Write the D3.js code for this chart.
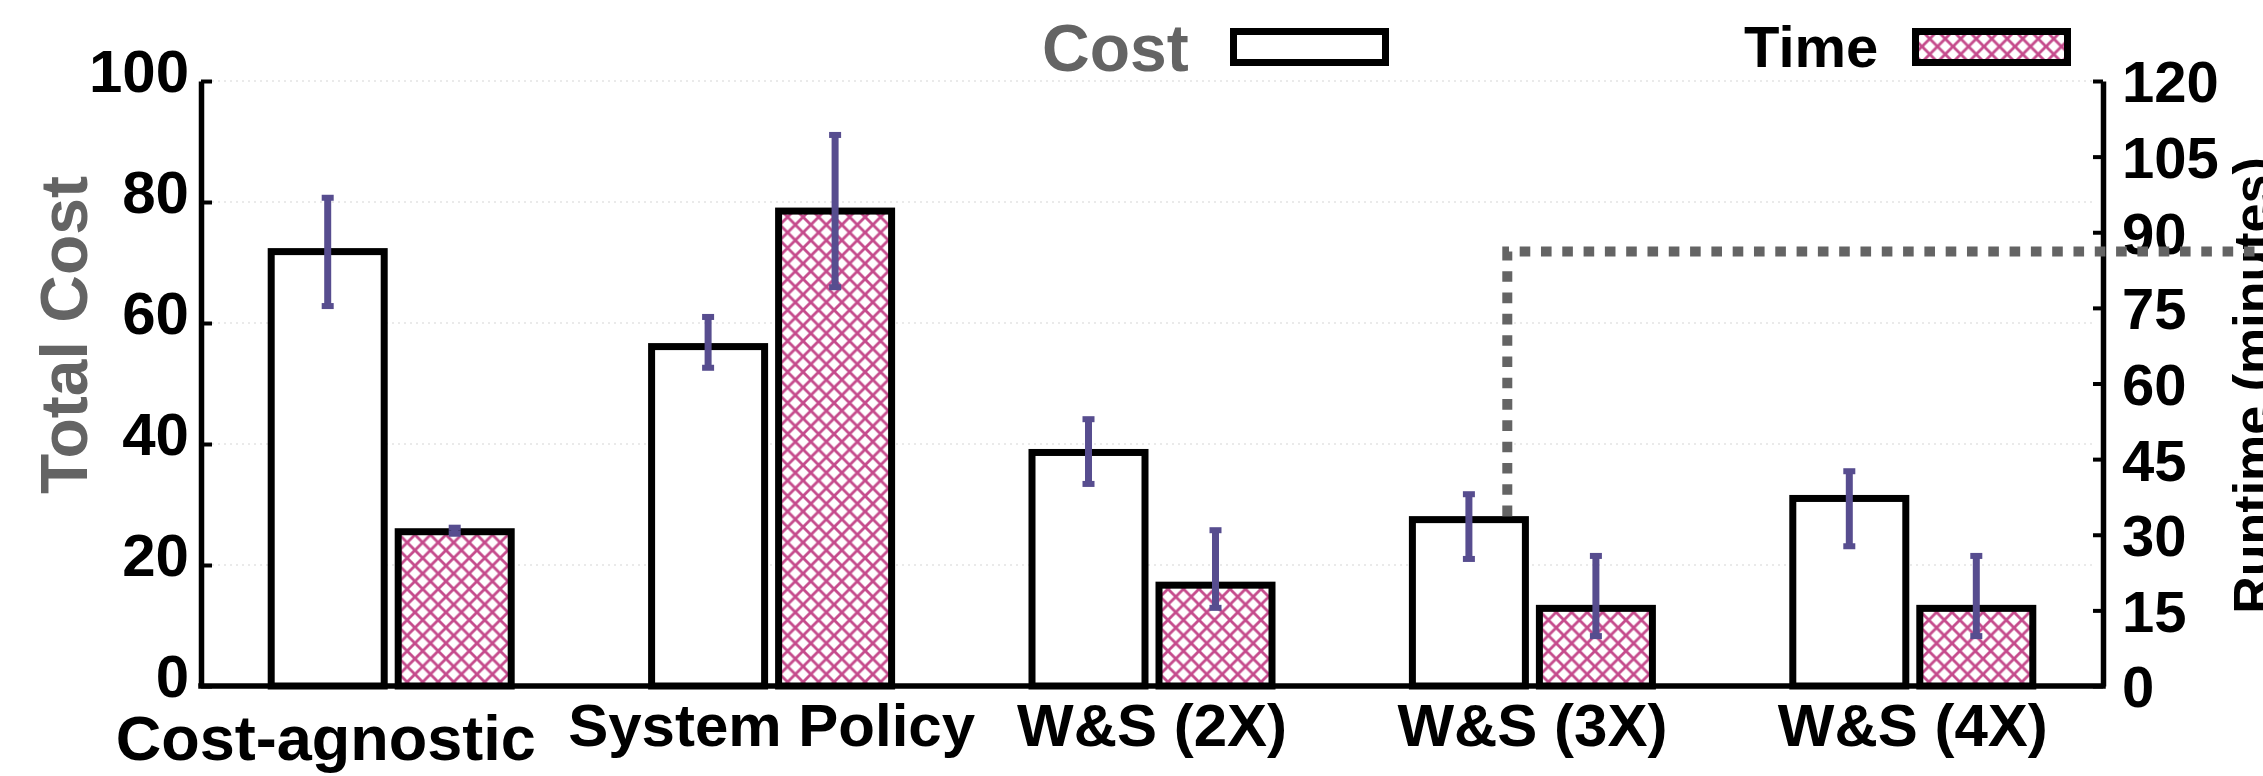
<!DOCTYPE html>
<html><head><meta charset="utf-8">
<script src="https://cdn.jsdelivr.net/npm/d3@7"></script>
<style>
body{margin:0;background:#fff}
svg{display:block}
text{font-family:"Liberation Sans",Arial,Helvetica,sans-serif;font-weight:bold}
</style>
</head><body>
<svg id="c" width="2263" height="776"></svg>
<script>
// ---- data ----
const categories = ["Cost-agnostic", "System Policy", "W&S (2X)", "W&S (3X)", "W&S (4X)"];
const seriesNames = ["Cost", "Time"];
const costMean = [71.8, 56.1, 38.6, 27.5, 31.0];
const costLow  = [62.8, 52.6, 33.4, 21.0, 23.1];
const costHigh = [80.7, 61.0, 44.1, 31.7, 35.5];
const timeMean = [30.6, 94.2, 20.0, 15.4, 15.4];
const timeLow  = [30.2, 79.1, 15.5, 9.9, 9.9];
const timeHigh = [31.4, 109.3, 30.9, 25.8, 25.8];
const costTicks = [0, 20, 40, 60, 80, 100];
const timeTicks = [0, 15, 30, 45, 60, 75, 90, 105, 120];
const costLabel = "Total Cost";
const timeLabel = "Runtime (minutes)";
// annotation: dashed line from W&S (3X) cost bar up to Cost-agnostic cost level
const annotFrom = 3, annotTo = 0;

// ---- layout ----
const W = 2263, H = 776;
const M = {left: 201, right: 2103, top: 81, bottom: 686};
const PINK = "#c54b8c", ERR = "#574d8f", GRAY = "#646464";
const svg = d3.select("#c");

const x0 = d3.scaleBand().domain(categories).range([M.left, M.right]);
const pairW = 247;
const x1 = d3.scaleBand().domain(seriesNames).range([0, pairW]).paddingInner(7 / 127);
const gOff = (x0.bandwidth() - pairW) / 2;
const yC = d3.scaleLinear().domain([0, 100]).range([M.bottom, M.top]);
const yT = d3.scaleLinear().domain([0, 120]).range([M.bottom, M.top]);

// pattern
const P = 15.5;
const defs = svg.append("defs");
const pat = defs.append("pattern").attr("id", "hatch").attr("patternUnits", "userSpaceOnUse")
  .attr("width", P).attr("height", P);
pat.append("rect").attr("width", P).attr("height", P).attr("fill", "#fff");
pat.append("path")
  .attr("d", `M0,0L${P},${P}M${P},0L0,${P}M-3,${P-3}L3,${P+3}M${P-3},-3L${P+3},3M-3,3L3,-3M${P-3},${P+3}L${P+3},${P-3}`)
  .attr("stroke", PINK).attr("stroke-width", 2.8).attr("fill", "none");

// gridlines
svg.append("g").selectAll("line").data(costTicks.filter(d => d > 0)).join("line")
  .attr("x1", M.left + 11).attr("x2", M.right - 10)
  .attr("y1", d => yC(d)).attr("y2", d => yC(d))
  .attr("stroke", "#e4e4e4").attr("stroke-width", 1.5).attr("stroke-dasharray", "2,4");

const rows = categories.map((c, i) => ({
  c, i,
  vals: [
    {s: "Cost", v: costMean[i], lo: costLow[i], hi: costHigh[i], y: yC},
    {s: "Time", v: timeMean[i], lo: timeLow[i], hi: timeHigh[i], y: yT}
  ]
}));

const SW = 7;
const grp = svg.append("g").selectAll("g").data(rows).join("g")
  .attr("transform", d => `translate(${x0(d.c) + gOff},0)`);

grp.selectAll("rect.bar").data(d => d.vals).join("rect").attr("class", "bar")
  .attr("x", d => x1(d.s) + SW / 2)
  .attr("width", x1.bandwidth() - SW)
  .attr("y", d => d.y(d.v))
  .attr("height", d => d.y(0) - d.y(d.v))
  .attr("fill", d => d.s === "Cost" ? "#fff" : "url(#hatch)")
  .attr("stroke", "#000").attr("stroke-width", SW);

// error bars
grp.selectAll("line.err").data(d => d.vals).join("line").attr("class", "err")
  .attr("x1", d => x1(d.s) + x1.bandwidth() / 2).attr("x2", d => x1(d.s) + x1.bandwidth() / 2)
  .attr("y1", d => d.y(d.lo)).attr("y2", d => d.y(d.hi))
  .attr("stroke", ERR).attr("stroke-width", 7);
grp.selectAll("g.caps").data(d => d.vals).join("g").attr("class", "caps")
  .selectAll("rect").data(d => [d.lo, d.hi].map(e => ({d, e}))).join("rect")
  .attr("x", o => x1(o.d.s) + x1.bandwidth() / 2 - 6).attr("width", 12)
  .attr("y", o => o.d.y(o.e) - 3).attr("height", 6).attr("fill", ERR);

// axes
const axL = svg.append("g").attr("transform", `translate(${M.left},0)`)
  .call(d3.axisLeft(yC).tickValues(costTicks).tickSize(-11).tickSizeOuter(0).tickPadding(12));
axL.select(".domain").attr("stroke", "#000").attr("stroke-width", 5.5);
axL.selectAll(".tick line").attr("stroke", "#000").attr("stroke-width", 4);
axL.selectAll(".tick text").attr("font-size", 60).attr("fill", "#000")
  .attr("y", -11).attr("dy", "0.36em")
  .style("font-family", '"Liberation Sans",Arial,sans-serif').style("font-weight", "bold");

const axR = svg.append("g").attr("transform", `translate(${M.right},0)`)
  .call(d3.axisRight(yT).tickValues(timeTicks).tickSize(-10).tickSizeOuter(0).tickPadding(19));
axR.select(".domain").attr("stroke", "#000").attr("stroke-width", 5.5);
axR.selectAll(".tick line").attr("stroke", "#000").attr("stroke-width", 4);
axR.selectAll(".tick text").attr("font-size", 58).attr("fill", "#000").attr("dy", "0.36em")
  .style("font-family", '"Liberation Sans",Arial,sans-serif').style("font-weight", "bold");

const axB = svg.append("g").attr("transform", `translate(0,${M.bottom})`)
  .call(d3.axisBottom(x0).tickSize(0).tickSizeOuter(0).tickPadding(0));
axB.select(".domain").attr("stroke", "#000").attr("stroke-width", 5.5)
  .attr("d", `M${M.left - 2.75},0H${M.right + 2.75}`);
axB.selectAll(".tick text").attr("font-size", 60).attr("fill", "#000")
  .attr("dy", null).attr("y", 60)
  .style("font-family", '"Liberation Sans",Arial,sans-serif').style("font-weight", "bold")
  .each(function(d, i) {
    if (i === 0) {
      // first label sits under its Cost bar, a little lower and larger
      const cx = gOff + x1("Cost") + x1.bandwidth() / 2 - x0.bandwidth() / 2 - 2;
      d3.select(this).attr("x", cx).attr("y", 74).attr("font-size", 63);
    }
  });

// axis titles
svg.append("text").attr("transform", `translate(87,335) rotate(-90)`)
  .attr("text-anchor", "middle").attr("font-size", 66).attr("fill", GRAY).text(costLabel);
svg.append("text").attr("transform", `translate(2270,${(M.top + M.bottom) / 2 + 2}) rotate(-90)`)
  .attr("text-anchor", "middle").attr("font-size", 52).attr("fill", "#000").text(timeLabel);

// legend
const legend = [
  {name: seriesNames[0], tx: 1042, ty: 71, fs: 66, color: GRAY, bx: 1230, fill: "#fff"},
  {name: seriesNames[1], tx: 1744, ty: 67, fs: 58, color: "#000", bx: 1912, fill: "url(#hatch)"}
];
const lg = svg.append("g").selectAll("g").data(legend).join("g");
lg.append("text").attr("x", d => d.tx).attr("y", d => d.ty).attr("font-size", d => d.fs)
  .attr("fill", d => d.color).text(d => d.name);
lg.append("rect").attr("x", d => d.bx + 3.5).attr("y", 31.5).attr("width", 152).attr("height", 31)
  .attr("fill", d => d.fill).attr("stroke", "#000").attr("stroke-width", 7);

// dashed annotation
const ax = x0(categories[annotFrom]) + gOff + x1("Cost") + x1.bandwidth() * 0.82;
const ay0 = yC(costMean[annotFrom]) - 3.5;
const ay1 = yC(costMean[annotTo]);
svg.append("path").attr("d", `M${ax},${ay0}V${ay1}H${W}`)
  .attr("fill", "none").attr("stroke", "#646464").attr("stroke-width", 10)
  .attr("stroke-dasharray", "10.6 10.7");
</script>
</body></html>
